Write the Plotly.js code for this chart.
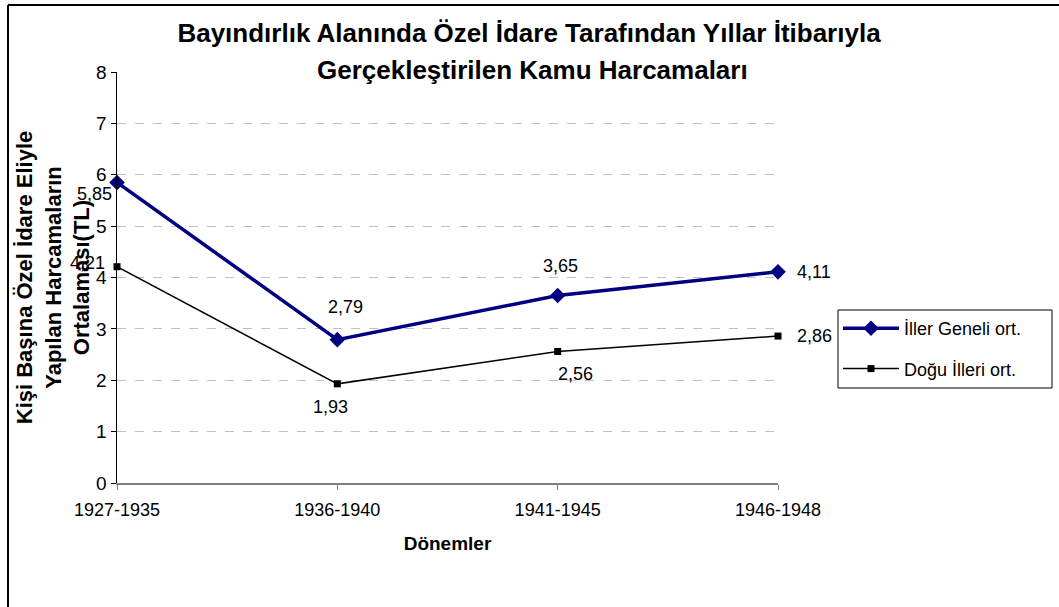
<!DOCTYPE html>
<html>
<head>
<meta charset="utf-8">
<script src="https://cdn.plot.ly/plotly-3.0.1.min.js"></script>
<style>html,body{margin:0;padding:0;background:#fff;}#chart{width:1059px;height:607px;}</style>
</head>
<body>
<div id="chart"></div>
<script>
const periods = ["1927-1935", "1936-1940", "1941-1945", "1946-1948"];
const illerGeneli = [5.85, 2.79, 3.65, 4.11];
const doguIlleri = [4.21, 1.93, 2.56, 2.86];
const seriesNames = ["İller Geneli ort.", "Doğu İlleri ort."];
const yTicks = [0, 1, 2, 3, 4, 5, 6, 7, 8];

const FONT = "Arial, 'Liberation Sans', sans-serif";

// label offsets (px) relative to each point
const illerOffsets = [[-23, -12], [8, 33], [3, 29], [36, 0]];
const doguOffsets = [[-30, 4], [-7, -23], [18, -23], [36, 0]];

const fmt = v => v.toFixed(2).replace(".", ",");

const traces = [
  {
    x: periods, y: illerGeneli, name: seriesNames[0], legendgroup: "a",
    type: "scatter", mode: "lines+markers",
    line: {color: "#000080", width: 3.5},
    marker: {symbol: "diamond", size: 12, color: "#000080"},
    cliponaxis: false
  },
  {
    x: periods, y: doguIlleri, name: seriesNames[1], legendgroup: "b",
    type: "scatter", mode: "lines+markers",
    line: {color: "#000000", width: 1.5},
    marker: {symbol: "square", size: 7, color: "#000000"},
    cliponaxis: false
  }
];

const L = 117, R = 281, T = 72, B = 124;
const pw = 1059 - L - R, ph = 607 - T - B;
const px = v => (v - L) / pw;
const py = v => (607 - B - v) / ph;
const bx = px(8), by = py(5);

const annotations = [{
  text: "<b>Gerçekleştirilen Kamu Harcamaları</b>",
  xref: "paper", yref: "paper",
  x: px(532), y: py(70),
  xanchor: "center", yanchor: "middle", showarrow: false,
  font: {family: FONT, size: 26, color: "#000"},
  bgcolor: "#fff", borderpad: 0
}];
function addLabels(vals, offs) {
  vals.forEach((v, i) => {
    annotations.push({
      x: periods[i], y: v, xref: "x", yref: "y",
      text: fmt(v), showarrow: false,
      xanchor: "center", yanchor: "middle",
      xshift: offs[i][0], yshift: offs[i][1],
      font: {family: FONT, size: 18, color: "#000"}
    });
  });
}
addLabels(illerGeneli, illerOffsets);
addLabels(doguIlleri, doguOffsets);

const layout = {
  width: 1059, height: 607,
  margin: {l: L, r: R, t: T, b: B, pad: 0},
  paper_bgcolor: "#fff", plot_bgcolor: "#fff",
  separators: ",.",
  font: {family: FONT, size: 16, color: "#000"},
  title: {
    text: "<b>Bayındırlık Alanında Özel İdare Tarafından Yıllar İtibarıyla</b>",
    font: {family: FONT, size: 26, color: "#000"},
    x: 529 / 1059, xref: "container", xanchor: "center",
    y: 1 - 33 / 607, yref: "container", yanchor: "middle"
  },
  annotations: annotations,
  xaxis: {
    type: "category",
    range: [0, 3],
    showgrid: false,
    showline: true, linecolor: "#808080", linewidth: 2,
    ticks: "outside", ticklen: 5, tickcolor: "#808080",
    ticklabelstandoff: 4,
    tickfont: {family: FONT, size: 18, color: "#000"},
    title: {text: "<b>Dönemler</b>", font: {family: FONT, size: 19, color: "#000"}, standoff: 18},
    zeroline: false, fixedrange: true
  },
  yaxis: {
    range: [0, 8],
    tickvals: yTicks,
    showgrid: true, gridcolor: "#c0c0c0", griddash: "dash", gridwidth: 1,
    showline: true, linecolor: "#000", linewidth: 1.5,
    ticks: "outside", ticklen: 5, tickcolor: "#000",
    tickfont: {family: FONT, size: 19, color: "#000"},
    title: {
      text: "<b>Kişi Başına Özel İdare Eliyle<br>Yapılan Harcamaların<br>Ortalaması(TL)</b>",
      font: {family: FONT, size: 22, color: "#000"}, standoff: -36
    },
    zeroline: false, fixedrange: true
  },
  showlegend: true,
  legend: {
    x: px(838), y: py(310),
    xanchor: "left", yanchor: "top",
    borderwidth: 0, bgcolor: "rgba(0,0,0,0)",
    font: {family: FONT, size: 18, color: "#000"},
    traceorder: "grouped", tracegroupgap: 14, itemwidth: 56
  },
  shapes: [
    {type: "line", xref: "paper", yref: "paper", x0: bx, x1: 2, y0: by, y1: by, line: {color: "#000", width: 2}},
    {type: "line", xref: "paper", yref: "paper", x0: bx, x1: bx, y0: by, y1: -1, line: {color: "#000", width: 2}},
    {type: "rect", xref: "paper", yref: "paper", layer: "above",
     x0: px(838), x1: px(1052), y0: py(310), y1: py(388),
     fillcolor: "#fff", line: {color: "#000", width: 1}}
  ]
};

Plotly.newPlot("chart", traces, layout, {displayModeBar: false, staticPlot: true});
</script>
</body>
</html>
